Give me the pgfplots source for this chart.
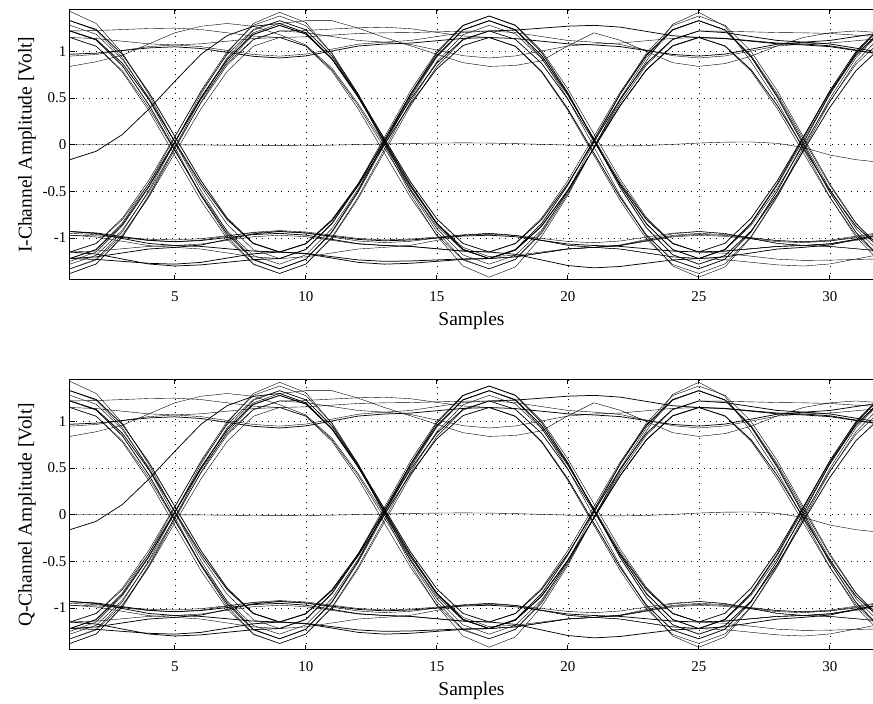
\documentclass[border=0pt]{standalone}
\usepackage{fontspec}
\setmainfont{Liberation Serif}
\usepackage{pgfplots}
\pgfplotsset{compat=1.18}
\pgfplotsset{eye/.style={
  scale only axis, width=803pt, height=270.5pt,
  xmin=1, xmax=31.65, ymin=-1.45, ymax=1.45,
  xtick={5,10,...,30}, ytick={-1,-0.5,0,0.5,1},
  grid=major, grid style={black, line width=0.55pt, dash pattern=on 0.9pt off 5.5pt},
  axis y line*=left,
  axis line style={black, line width=1pt},
  tick style={black, line width=0.6pt},
  major tick length=5pt,
  tick label style={font=\fontsize{15}{18}\selectfont},
  xticklabel style={yshift=-8pt},
  label style={font=\fontsize{19.5}{23}\selectfont},
  xlabel style={yshift=-3pt},
  /pgf/number format/assume math mode=true,
  yticklabel style={/pgf/number format/fixed},
  xlabel={Samples},
  no markers,
  cycle list={{black,solid,line width=0.75pt}},
  clip=true,
}}
\newcommand{\eyetraces}{%
\addplot coordinates {(1,-1.38)(2,-1.277)(3,-0.983)(4,-0.544)(5,-0.025)(6,0.494)(7,0.933)(8,1.227)(9,1.33)(10,1.231)(11,0.948)(12,0.525)(13,0.025)(14,-0.475)(15,-0.898)(16,-1.181)(17,-1.28)(18,-1.185)(19,-0.914)(20,-0.509)(21,-0.03)(22,0.449)(23,0.854)(24,1.125)(25,1.22)(26,1.217)(27,1.21)(28,1.203)(29,1.2)(30,1.193)(31,1.175)(32,1.157)};
\addplot coordinates {(1,1.43)(2,1.3)(3,0.983)(4,0.544)(5,0.025)(6,-0.494)(7,-0.933)(8,-1.227)(9,-1.33)(10,-1.229)(11,-0.94)(12,-0.509)(13,0)(14,0.509)(15,0.94)(16,1.229)(17,1.33)(18,1.227)(19,0.933)(20,0.494)(21,-0.025)(22,-0.544)(23,-0.983)(24,-1.3)(25,-1.42)(26,-1.31)(27,-0.99)(28,-0.559)(29,-0.05)(30,0.459)(31,0.89)(32,1.179)};
\addplot coordinates {(1,1.22)(2,1.13)(3,0.873)(4,0.489)(5,0.035)(6,-0.419)(7,-0.803)(8,-1.06)(9,-1.15)(10,-1.165)(11,-1.2)(12,-1.235)(13,-1.25)(14,-1.246)(15,-1.235)(16,-1.224)(17,-1.22)(18,-1.123)(19,-0.846)(20,-0.433)(21,0.055)(22,0.543)(23,0.956)(24,1.233)(25,1.33)(26,1.229)(27,0.94)(28,0.509)(29,0)(30,-0.509)(31,-0.94)(32,-1.229)};
\addplot coordinates {(1,-1.15)(2,-1.06)(3,-0.803)(4,-0.419)(5,0.035)(6,0.489)(7,0.873)(8,1.13)(9,1.22)(10,1.226)(11,1.24)(12,1.254)(13,1.26)(14,1.244)(15,1.205)(16,1.166)(17,1.15)(18,1.054)(19,0.779)(20,0.369)(21,-0.115)(22,-0.599)(23,-1.009)(24,-1.284)(25,-1.38)(26,-1.277)(27,-0.983)(28,-0.544)(29,-0.025)(30,0.494)(31,0.933)(32,1.227)};
\addplot coordinates {(1,-1.33)(2,-1.236)(3,-0.967)(4,-0.565)(5,-0.09)(6,0.385)(7,0.787)(8,1.056)(9,1.15)(10,1.157)(11,1.175)(12,1.193)(13,1.2)(14,1.203)(15,1.21)(16,1.217)(17,1.22)(18,1.13)(19,0.873)(20,0.489)(21,0.035)(22,-0.419)(23,-0.803)(24,-1.06)(25,-1.15)(26,-1.14)(27,-1.115)(28,-1.09)(29,-1.08)(30,-1.061)(31,-1.015)(32,-0.969)};
\addplot coordinates {(1,-0.93)(2,-0.946)(3,-0.985)(4,-1.024)(5,-1.04)(6,-1.027)(7,-0.995)(8,-0.963)(9,-0.95)(10,-0.969)(11,-1.015)(12,-1.061)(13,-1.08)(14,-1.09)(15,-1.115)(16,-1.14)(17,-1.15)(18,-1.06)(19,-0.803)(20,-0.419)(21,0.035)(22,0.489)(23,0.873)(24,1.13)(25,1.22)(26,1.202)(27,1.16)(28,1.118)(29,1.1)(30,1.081)(31,1.035)(32,0.989)};
\addplot coordinates {(1,1.15)(2,1.054)(3,0.779)(4,0.369)(5,-0.115)(6,-0.599)(7,-1.009)(8,-1.284)(9,-1.38)(10,-1.281)(11,-0.999)(12,-0.578)(13,-0.08)(14,0.418)(15,0.839)(16,1.121)(17,1.22)(18,1.202)(19,1.16)(20,1.118)(21,1.1)(22,1.075)(23,1.015)(24,0.955)(25,0.93)(26,0.952)(27,1.005)(28,1.058)(29,1.08)(30,1.09)(31,1.115)(32,1.14)};
\addplot coordinates {(1,-0.97)(2,-0.989)(3,-1.035)(4,-1.081)(5,-1.1)(6,-1.118)(7,-1.16)(8,-1.202)(9,-1.22)(10,-1.121)(11,-0.839)(12,-0.418)(13,0.08)(14,0.578)(15,0.999)(16,1.281)(17,1.38)(18,1.284)(19,1.009)(20,0.599)(21,0.115)(22,-0.369)(23,-0.779)(24,-1.054)(25,-1.15)(26,-1.163)(27,-1.195)(28,-1.227)(29,-1.24)(30,-1.237)(31,-1.23)(32,-1.223)};
\addplot coordinates {(1,-1.22)(2,-1.202)(3,-1.16)(4,-1.118)(5,-1.1)(6,-1.075)(7,-1.015)(8,-0.955)(9,-0.93)(10,-0.945)(11,-0.98)(12,-1.015)(13,-1.03)(14,-1.021)(15,-1.0)(16,-0.979)(17,-0.97)(18,-0.986)(19,-1.025)(20,-1.064)(21,-1.08)(22,-1.09)(23,-1.115)(24,-1.14)(25,-1.15)(26,-1.056)(27,-0.787)(28,-0.385)(29,0.09)(30,0.565)(31,0.967)(32,1.236)};
\addplot coordinates {(1,1.22)(2,1.224)(3,1.235)(4,1.246)(5,1.25)(6,1.235)(7,1.2)(8,1.165)(9,1.15)(10,1.056)(11,0.787)(12,0.385)(13,-0.09)(14,-0.565)(15,-0.967)(16,-1.236)(17,-1.33)(18,-1.227)(19,-0.933)(20,-0.494)(21,0.025)(22,0.544)(23,0.983)(24,1.277)(25,1.38)(26,1.281)(27,0.999)(28,0.578)(29,0.08)(30,-0.418)(31,-0.839)(32,-1.121)};
\addplot coordinates {(1,-1.38)(2,-1.279)(3,-0.99)(4,-0.559)(5,-0.05)(6,0.459)(7,0.89)(8,1.179)(9,1.28)(10,1.185)(11,0.914)(12,0.509)(13,0.03)(14,-0.449)(15,-0.854)(16,-1.125)(17,-1.22)(18,-1.202)(19,-1.16)(20,-1.118)(21,-1.1)(22,-1.075)(23,-1.015)(24,-0.955)(25,-0.93)(26,-0.952)(27,-1.005)(28,-1.058)(29,-1.08)(30,-1.09)(31,-1.115)(32,-1.14)};
\addplot coordinates {(1,1.33)(2,1.236)(3,0.967)(4,0.565)(5,0.09)(6,-0.385)(7,-0.787)(8,-1.056)(9,-1.15)(10,-1.169)(11,-1.215)(12,-1.261)(13,-1.28)(14,-1.271)(15,-1.25)(16,-1.229)(17,-1.22)(18,-1.13)(19,-0.873)(20,-0.489)(21,-0.035)(22,0.419)(23,0.803)(24,1.06)(25,1.15)(26,1.14)(27,1.115)(28,1.09)(29,1.08)(30,1.061)(31,1.015)(32,0.969)};
\addplot coordinates {(1,0.95)(2,0.968)(3,1.01)(4,1.052)(5,1.07)(6,1.082)(7,1.11)(8,1.138)(9,1.15)(10,1.06)(11,0.803)(12,0.419)(13,-0.035)(14,-0.489)(15,-0.873)(16,-1.13)(17,-1.22)(18,-1.202)(19,-1.16)(20,-1.118)(21,-1.1)(22,-1.078)(23,-1.025)(24,-0.972)(25,-0.95)(26,-0.963)(27,-0.995)(28,-1.027)(29,-1.04)(30,-1.022)(31,-0.98)(32,-0.938)};
\addplot coordinates {(1,-1.22)(2,-1.121)(3,-0.839)(4,-0.418)(5,0.08)(6,0.578)(7,0.999)(8,1.281)(9,1.38)(10,1.277)(11,0.983)(12,0.544)(13,0.025)(14,-0.494)(15,-0.933)(16,-1.227)(17,-1.33)(18,-1.231)(19,-0.948)(20,-0.525)(21,-0.025)(22,0.475)(23,0.898)(24,1.29)(25,1.42)(26,1.27)(27,0.89)(28,0.459)(29,-0.05)(30,-0.559)(31,-0.99)(32,-1.279)};
\addplot coordinates {(1,-1.15)(2,-1.172)(3,-1.225)(4,-1.278)(5,-1.3)(6,-1.288)(7,-1.26)(8,-1.232)(9,-1.22)(10,-1.123)(11,-0.846)(12,-0.433)(13,0.055)(14,0.543)(15,0.956)(16,1.233)(17,1.33)(18,1.233)(19,0.956)(20,0.543)(21,0.055)(22,-0.433)(23,-0.846)(24,-1.123)(25,-1.22)(26,-1.202)(27,-1.16)(28,-1.118)(29,-1.1)(30,-1.075)(31,-1.015)(32,-0.955)};
\addplot coordinates {(1,1.15)(2,1.138)(3,1.11)(4,1.082)(5,1.07)(6,1.052)(7,1.01)(8,0.968)(9,0.95)(10,0.972)(11,1.025)(12,1.078)(13,1.1)(14,1.118)(15,1.16)(16,1.202)(17,1.22)(18,1.13)(19,0.873)(20,0.489)(21,0.035)(22,-0.419)(23,-0.803)(24,-1.06)(25,-1.15)(26,-1.14)(27,-1.115)(28,-1.09)(29,-1.08)(30,-1.061)(31,-1.015)(32,-0.969)};
\addplot coordinates {(1,-0.95)(2,-0.963)(3,-0.995)(4,-1.027)(5,-1.04)(6,-1.022)(7,-0.98)(8,-0.938)(9,-0.92)(10,-0.935)(11,-0.97)(12,-1.005)(13,-1.02)(14,-1.011)(15,-0.99)(16,-0.969)(17,-0.96)(18,-0.973)(19,-1.005)(20,-1.037)(21,-1.05)(22,-1.032)(23,-0.99)(24,-0.948)(25,-0.93)(26,-0.952)(27,-1.005)(28,-1.058)(29,-1.08)(30,-1.09)(31,-1.115)(32,-1.14)};
\addplot coordinates {(1,1.22)(2,1.123)(3,0.846)(4,0.433)(5,-0.055)(6,-0.543)(7,-0.956)(8,-1.233)(9,-1.33)(10,-1.227)(11,-0.933)(12,-0.494)(13,0.025)(14,0.544)(15,0.983)(16,1.277)(17,1.38)(18,1.279)(19,0.99)(20,0.559)(21,0.05)(22,-0.459)(23,-0.89)(24,-1.179)(25,-1.28)(26,-1.188)(27,-0.924)(28,-0.53)(29,-0.065)(30,0.4)(31,0.794)(32,1.058)};
\addplot coordinates {(1,-1.33)(2,-1.227)(3,-0.933)(4,-0.494)(5,0.025)(6,0.544)(7,0.983)(8,1.3)(9,1.42)(10,1.31)(11,0.976)(12,0.529)(13,0)(14,-0.529)(15,-0.976)(16,-1.3)(17,-1.42)(18,-1.31)(19,-0.983)(20,-0.544)(21,-0.025)(22,0.494)(23,0.933)(24,1.227)(25,1.33)(26,1.233)(27,0.956)(28,0.543)(29,0.055)(30,-0.433)(31,-0.846)(32,-1.123)};
\addplot coordinates {(1,-1.15)(2,-1.056)(3,-0.787)(4,-0.385)(5,0.09)(6,0.565)(7,0.967)(8,1.236)(9,1.33)(10,1.233)(11,0.956)(12,0.543)(13,0.055)(14,-0.433)(15,-0.846)(16,-1.123)(17,-1.22)(18,-1.202)(19,-1.16)(20,-1.118)(21,-1.1)(22,-1.081)(23,-1.035)(24,-0.989)(25,-0.97)(26,-0.982)(27,-1.01)(28,-1.038)(29,-1.05)(30,-1.032)(31,-0.99)(32,-0.948)};
\addplot coordinates {(1,0.97)(2,0.982)(3,1.01)(4,1.038)(5,1.05)(6,1.032)(7,0.99)(8,0.948)(9,0.93)(10,0.952)(11,1.005)(12,1.058)(13,1.08)(14,1.09)(15,1.115)(16,1.14)(17,1.15)(18,1.056)(19,0.787)(20,0.385)(21,-0.09)(22,-0.565)(23,-0.967)(24,-1.236)(25,-1.33)(26,-1.227)(27,-0.933)(28,-0.494)(29,0.025)(30,0.544)(31,0.983)(32,1.277)};
\addplot coordinates {(1,1.28)(2,1.185)(3,0.914)(4,0.509)(5,0.03)(6,-0.449)(7,-0.854)(8,-1.125)(9,-1.22)(10,-1.202)(11,-1.16)(12,-1.118)(13,-1.1)(14,-1.078)(15,-1.025)(16,-0.972)(17,-0.95)(18,-0.972)(19,-1.025)(20,-1.078)(21,-1.1)(22,-1.118)(23,-1.16)(24,-1.202)(25,-1.22)(26,-1.127)(27,-0.863)(28,-0.467)(29,0)(30,0.467)(31,0.863)(32,1.127)};
\addplot coordinates {(1,-1.15)(2,-1.14)(3,-1.115)(4,-1.09)(5,-1.08)(6,-1.064)(7,-1.025)(8,-0.986)(9,-0.97)(10,-0.986)(11,-1.025)(12,-1.064)(13,-1.08)(14,-1.09)(15,-1.115)(16,-1.14)(17,-1.15)(18,-1.056)(19,-0.787)(20,-0.385)(21,0.09)(22,0.565)(23,0.967)(24,1.236)(25,1.33)(26,1.231)(27,0.948)(28,0.525)(29,0.025)(30,-0.475)(31,-0.898)(32,-1.181)};
\addplot coordinates {(1,-0.93)(2,-0.952)(3,-1.005)(4,-1.058)(5,-1.08)(6,-1.09)(7,-1.115)(8,-1.14)(9,-1.15)(10,-1.06)(11,-0.803)(12,-0.419)(13,0.035)(14,0.489)(15,0.873)(16,1.13)(17,1.22)(18,1.229)(19,1.25)(20,1.271)(21,1.28)(22,1.261)(23,1.215)(24,1.169)(25,1.15)(26,1.06)(27,0.803)(28,0.419)(29,-0.035)(30,-0.489)(31,-0.873)(32,-1.13)};
\addplot coordinates {(1,1.15)(2,1.058)(3,0.794)(4,0.4)(5,-0.065)(6,-0.53)(7,-0.924)(8,-1.188)(9,-1.28)(10,-1.181)(11,-0.898)(12,-0.475)(13,0.025)(14,0.525)(15,0.948)(16,1.231)(17,1.33)(18,1.233)(19,0.956)(20,0.543)(21,0.055)(22,-0.433)(23,-0.846)(24,-1.123)(25,-1.22)(26,-1.232)(27,-1.26)(28,-1.288)(29,-1.3)(30,-1.278)(31,-1.225)(32,-1.172)};
\addplot coordinates {(1,1.33)(2,1.227)(3,0.933)(4,0.494)(5,-0.025)(6,-0.544)(7,-0.983)(8,-1.277)(9,-1.38)(10,-1.279)(11,-0.99)(12,-0.559)(13,-0.05)(14,0.459)(15,0.89)(16,1.179)(17,1.28)(18,1.188)(19,0.924)(20,0.53)(21,0.065)(22,-0.4)(23,-0.794)(24,-1.058)(25,-1.15)(26,-1.14)(27,-1.115)(28,-1.09)(29,-1.08)(30,-1.064)(31,-1.025)(32,-0.986)};
\addplot coordinates {(1,-1.22)(2,-1.229)(3,-1.25)(4,-1.271)(5,-1.28)(6,-1.261)(7,-1.215)(8,-1.169)(9,-1.15)(10,-1.063)(11,-0.813)(12,-0.44)(13,0)(14,0.44)(15,0.813)(16,1.063)(17,1.15)(18,1.138)(19,1.11)(20,1.082)(21,1.07)(22,1.052)(23,1.01)(24,0.968)(25,0.95)(26,0.972)(27,1.025)(28,1.078)(29,1.1)(30,1.118)(31,1.16)(32,1.202)};
\addplot coordinates {(1,-0.97)(2,-0.977)(3,-0.995)(4,-1.013)(5,-1.02)(6,-1.007)(7,-0.975)(8,-0.943)(9,-0.93)(10,-0.948)(11,-0.99)(12,-1.032)(13,-1.05)(14,-1.035)(15,-1.0)(16,-0.965)(17,-0.95)(18,-0.972)(19,-1.025)(20,-1.078)(21,-1.1)(22,-1.118)(23,-1.16)(24,-1.202)(25,-1.22)(26,-1.123)(27,-0.846)(28,-0.433)(29,0.055)(30,0.543)(31,0.956)(32,1.233)};
\addplot coordinates {(1,-1.28)(2,-1.185)(3,-0.914)(4,-0.509)(5,-0.03)(6,0.449)(7,0.854)(8,1.125)(9,1.22)(10,1.202)(11,1.16)(12,1.118)(13,1.1)(14,1.075)(15,1.015)(16,0.955)(17,0.93)(18,0.952)(19,1.005)(20,1.058)(21,1.08)(22,1.09)(23,1.115)(24,1.14)(25,1.15)(26,1.056)(27,0.787)(28,0.385)(29,-0.09)(30,-0.565)(31,-0.967)(32,-1.236)};
\addplot coordinates {(1,-1.22)(2,-1.125)(3,-0.854)(4,-0.449)(5,0.03)(6,0.509)(7,0.914)(8,1.185)(9,1.28)(10,1.188)(11,0.924)(12,0.53)(13,0.065)(14,-0.4)(15,-0.794)(16,-1.058)(17,-1.15)(18,-1.175)(19,-1.235)(20,-1.295)(21,-1.32)(22,-1.305)(23,-1.27)(24,-1.235)(25,-1.22)(26,-1.121)(27,-0.839)(28,-0.418)(29,0.08)(30,0.578)(31,0.999)(32,1.281)};
\addplot coordinates {(1,0.84)(2,0.89)(3,0.96)(4,1.08)(5,1.2)(6,1.27)(7,1.3)(8,1.27)(9,1.18)(10,1.07)(11,0.82)(12,0.44)(13,0.0)(14,-0.45)(15,-0.84)(16,-1.1)(17,-1.2)(18,-1.185)(19,-1.15)(20,-1.115)(21,-1.1)(22,-1.08)(23,-1.03)(24,-0.98)(25,-0.96)(26,-0.972)(27,-1.0)(28,-1.028)(29,-1.04)(30,-1.03)(31,-1.0)(32,-0.97)};
\addplot coordinates {(1,-1.25)(2,-1.15)(3,-0.87)(4,-0.46)(5,0.02)(6,0.5)(7,0.91)(8,1.2)(9,1.3)(10,1.33)(11,1.33)(12,1.25)(13,1.15)(14,1.06)(15,0.97)(16,0.88)(17,0.84)(18,0.85)(19,0.9)(20,1.06)(21,1.2)(22,1.12)(23,1.0)(24,0.88)(25,0.84)(26,0.87)(27,0.95)(28,1.06)(29,1.15)(30,1.2)(31,1.22)(32,1.2)};
\addplot coordinates {(1,-0.16)(2,-0.07)(3,0.11)(4,0.38)(5,0.68)(6,0.97)(7,1.17)(8,1.27)(9,1.3)(10,1.2)(11,0.92)(12,0.51)(13,0.04)(14,-0.43)(15,-0.84)(16,-1.12)(17,-1.22)(18,-1.13)(19,-0.873)(20,-0.489)(21,-0.035)(22,0.419)(23,0.803)(24,1.06)(25,1.15)(26,1.138)(27,1.11)(28,1.082)(29,1.07)(30,1.052)(31,1.01)(32,0.968)};
\addplot coordinates {(1,0)(2,0)(3,0)(4,0)(5,0)(6,-0.002)(7,-0.005)(8,-0.008)(9,-0.01)(10,-0.008)(11,-0.004)(12,0.002)(13,0.008)(14,0.014)(15,0.018)(16,0.02)(17,0.018)(18,0.012)(19,0.004)(20,-0.004)(21,-0.01)(22,-0.012)(23,-0.008)(24,0.004)(25,0.018)(26,0.028)(27,0.03)(28,0.015)(29,-0.03)(30,-0.11)(31,-0.16)(32,-0.19)};
}
\begin{document}
\begin{tikzpicture}[x=1pt,y=1pt]
\useasboundingbox (0,0) rectangle (873,704);
\begin{axis}[eye, at={(70pt,424pt)}, anchor=south west, ylabel={I-Channel Amplitude [Volt]}]
\eyetraces
\end{axis}
\begin{axis}[eye, at={(70pt,54pt)}, anchor=south west, ylabel={Q-Channel Amplitude [Volt]}]
\eyetraces
\end{axis}
\end{tikzpicture}
\end{document}
